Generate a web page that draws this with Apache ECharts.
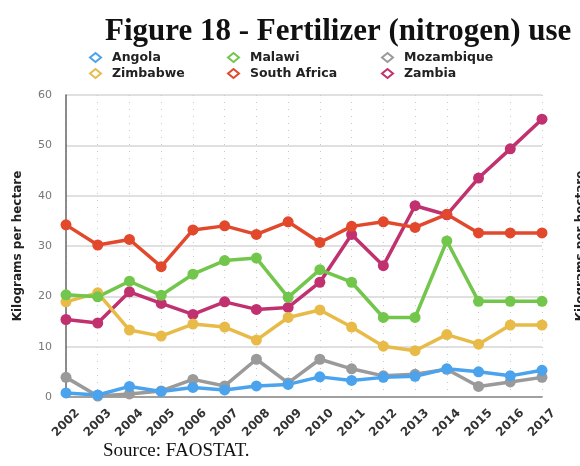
<!DOCTYPE html>
<html>
<head>
<meta charset="utf-8">
<script src="https://cdn.jsdelivr.net/npm/echarts@6/dist/echarts.min.js"></script>
<style>
  html, body { margin: 0; padding: 0; background: #fff; }
  #main { width: 580px; height: 466px; }
</style>
</head>
<body>
<div id="main"></div>
<script>
// data
var years = ['2002', '2003', '2004', '2005', '2006', '2007', '2008', '2009', '2010', '2011', '2012', '2013', '2014', '2015', '2016', '2017'];
var yTicks = [0, 10, 20, 30, 40, 50, 60];
var angola = [0.8, 0.4, 2.1, 1.1, 1.9, 1.4, 2.2, 2.5, 4.0, 3.3, 3.9, 4.1, 5.6, 5.0, 4.2, 5.3];
var malawi = [20.3, 19.9, 23.0, 20.2, 24.4, 27.1, 27.6, 19.8, 25.3, 22.8, 15.8, 15.8, 31.0, 19.0, 19.0, 19.0];
var mozambique = [3.9, 0.2, 0.6, 1.2, 3.5, 2.2, 7.5, 2.8, 7.5, 5.6, 4.2, 4.5, 5.5, 2.1, 3.0, 3.9];
var zimbabwe = [18.9, 20.7, 13.3, 12.1, 14.5, 13.9, 11.3, 15.8, 17.3, 13.9, 10.1, 9.2, 12.4, 10.5, 14.3, 14.3];
var southAfrica = [34.2, 30.2, 31.3, 25.9, 33.2, 34.0, 32.3, 34.8, 30.7, 33.9, 34.8, 33.7, 36.3, 32.6, 32.6, 32.6];
var zambia = [15.4, 14.7, 20.9, 18.6, 16.4, 18.9, 17.4, 17.8, 22.8, 32.3, 26.1, 38.0, 36.2, 43.5, 49.3, 55.2];

var colors = {
  'Angola': '#4aa3ec',
  'Malawi': '#72c64c',
  'Mozambique': '#9a9a9a',
  'Zimbabwe': '#e8bb48',
  'South Africa': '#e2482c',
  'Zambia': '#c1316f'
};

var chart = echarts.init(document.getElementById('main'));

// one legend per entry so the columns line up like the original
function legendItem(name, left, top) {
  return {
    data: [{ name: name, itemStyle: { color: '#fff', borderColor: colors[name], borderWidth: 2 } }],
    left: left,
    top: top,
    padding: 0,
    icon: 'diamond',
    itemWidth: 11,
    itemHeight: 9,
    textStyle: {
      fontFamily: 'DejaVu Sans',
      fontWeight: 'bold',
      fontSize: 12.5,
      color: '#222',
      padding: [0, 0, 0, 6]
    }
  };
}

function lineSeries(name, data) {
  return {
    name: name,
    type: 'line',
    data: data,
    symbol: 'circle',
    symbolSize: 11,
    lineStyle: { width: 3.5, color: colors[name] },
    itemStyle: { color: colors[name] }
  };
}

option = {
  animation: false,
  textStyle: { fontFamily: 'DejaVu Sans' },
  title: {
    text: 'Figure 18 - Fertilizer (nitrogen) use',
    left: 105,
    top: 16,
    padding: 0,
    textStyle: {
      fontFamily: 'Liberation Serif',
      fontWeight: 'bold',
      fontSize: 31,
      color: '#111'
    }
  },
  legend: [
    legendItem('Angola', 89, 51),
    legendItem('Malawi', 227, 51),
    legendItem('Mozambique', 381, 51),
    legendItem('Zimbabwe', 89, 67),
    legendItem('South Africa', 227, 67),
    legendItem('Zambia', 381, 67)
  ],
  grid: {
    left: 66,
    right: 38,
    top: 95,
    bottom: 69
  },
  xAxis: {
    type: 'category',
    data: years,
    boundaryGap: false,
    axisLine: { lineStyle: { color: '#8a8a8a', width: 1.5 } },
    axisTick: { show: false },
    axisLabel: {
      rotate: 45,
      align: 'center',
      verticalAlign: 'middle',
      margin: 26,
      fontFamily: 'DejaVu Sans',
      fontWeight: 'bold',
      fontSize: 12,
      color: '#333'
    },
    splitLine: {
      show: true,
      lineStyle: { color: '#c8c8c8', type: [1, 6], width: 1 }
    }
  },
  yAxis: {
    type: 'value',
    min: yTicks[0],
    max: yTicks[yTicks.length - 1],
    interval: 10,
    name: 'Kilograms per hectare',
    nameLocation: 'middle',
    nameGap: 42,
    nameTextStyle: {
      fontFamily: 'DejaVu Sans',
      fontWeight: 'bold',
      fontSize: 12,
      color: '#222'
    },
    axisLine: { show: true, lineStyle: { color: '#666', width: 1.5 } },
    axisTick: { show: false },
    axisLabel: {
      margin: 14,
      fontFamily: 'DejaVu Sans',
      fontSize: 11,
      color: '#777'
    },
    splitLine: { lineStyle: { color: '#d6d6d6', width: 1.5 } }
  },
  graphic: [
    {
      type: 'text',
      left: 103,
      top: 442,
      style: {
        text: 'Source: FAOSTAT.',
        font: '19px "Liberation Serif"',
        fill: '#111'
      }
    },
    {
      // axis title of the neighbouring figure, cut by the page edge
      type: 'text',
      x: 581,
      y: 246,
      rotation: Math.PI / 2,
      style: {
        text: 'Kilograms per hectare',
        font: 'bold 12px "DejaVu Sans"',
        fill: '#222',
        align: 'center',
        verticalAlign: 'middle'
      }
    }
  ],
  series: [
    lineSeries('Zambia', zambia),
    lineSeries('Mozambique', mozambique),
    lineSeries('Zimbabwe', zimbabwe),
    lineSeries('Malawi', malawi),
    lineSeries('Angola', angola),
    lineSeries('South Africa', southAfrica)
  ]
};

chart.setOption(option);
</script>
</body>
</html>
